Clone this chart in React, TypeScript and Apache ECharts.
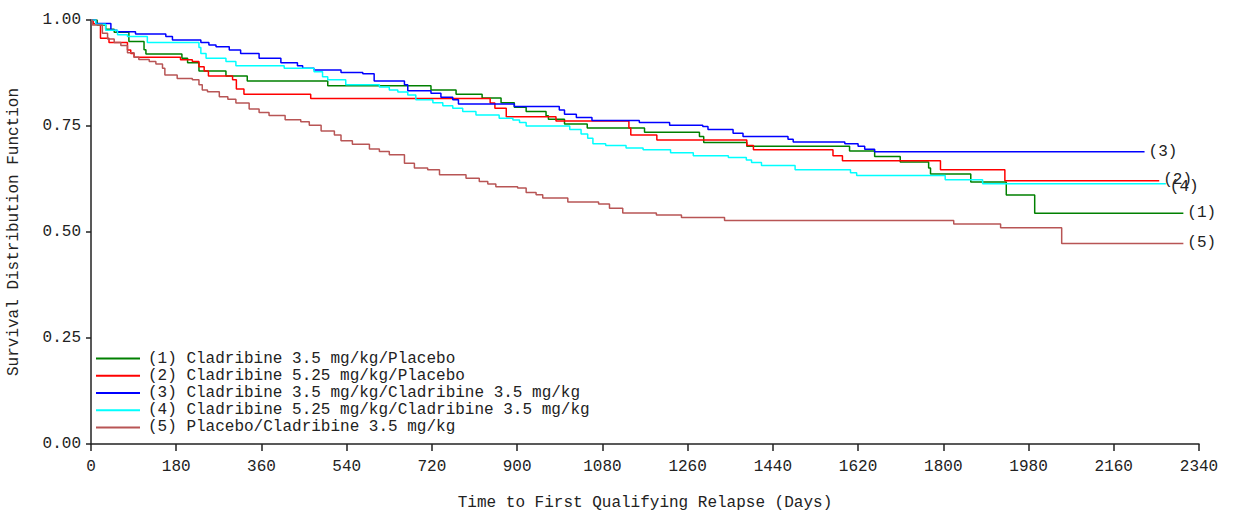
import React, { useEffect, useRef } from "react";
import * as echarts from "echarts";

const FONT = "'Liberation Mono', 'DejaVu Sans Mono', monospace";

const seriesNames = [
  "(1) Cladribine 3.5 mg/kg/Placebo",
  "(2) Cladribine 5.25 mg/kg/Placebo",
  "(3) Cladribine 3.5 mg/kg/Cladribine 3.5 mg/kg",
  "(4) Cladribine 5.25 mg/kg/Cladribine 3.5 mg/kg",
  "(5) Placebo/Cladribine 3.5 mg/kg",
];
const endTags = ["(1)", "(2)", "(3)", "(4)", "(5)"];
const colors = ["#008000", "#ff0000", "#0000ff", "#00ffff", "#b85555"];

const xTicks = [0, 180, 360, 540, 720, 900, 1080, 1260, 1440, 1620, 1800, 1980, 2160, 2340];
const yTicks = [0, 0.25, 0.5, 0.75, 1.0];

const curve1 = [
  [0, 1], [13, 0.988], [31, 0.978], [49, 0.971], [80, 0.949], [112, 0.93], [116, 0.92],
  [192, 0.91], [204, 0.899], [228, 0.88], [285, 0.868], [330, 0.856], [500, 0.845],
  [718, 0.835], [771, 0.825], [826, 0.816], [866, 0.805], [894, 0.794], [919, 0.784],
  [961, 0.774], [966, 0.766], [1000, 0.755], [1048, 0.745], [1169, 0.735], [1285, 0.725],
  [1294, 0.711], [1385, 0.702], [1602, 0.691], [1655, 0.678], [1709, 0.665], [1769, 0.651],
  [1773, 0.637], [1858, 0.618], [1933, 0.587], [1993, 0.544], [2307, 0.544],
];
const curve2 = [
  [0, 1], [5, 0.991], [20, 0.957], [38, 0.947], [77, 0.929], [84, 0.921], [91, 0.912],
  [189, 0.906], [214, 0.902], [228, 0.89], [239, 0.88], [248, 0.868], [299, 0.859],
  [307, 0.837], [323, 0.825], [464, 0.815], [843, 0.804], [853, 0.792], [877, 0.772],
  [982, 0.762], [1136, 0.745], [1140, 0.729], [1195, 0.717], [1385, 0.704], [1399, 0.694],
  [1567, 0.68], [1587, 0.668], [1794, 0.647], [1930, 0.621], [2256, 0.621],
];
const curve3 = [
  [0, 1], [10, 0.992], [42, 0.976], [55, 0.972], [94, 0.967], [158, 0.961], [172, 0.953],
  [232, 0.947], [249, 0.941], [264, 0.937], [292, 0.929], [316, 0.921], [355, 0.91],
  [401, 0.899], [436, 0.892], [447, 0.886], [471, 0.882], [528, 0.876], [574, 0.873],
  [598, 0.856], [662, 0.847], [669, 0.833], [718, 0.827], [739, 0.818], [764, 0.812],
  [776, 0.802], [894, 0.796], [989, 0.788], [1000, 0.778], [1025, 0.77], [1058, 0.763],
  [1158, 0.758], [1222, 0.752], [1292, 0.749], [1303, 0.742], [1356, 0.733], [1377, 0.725],
  [1472, 0.719], [1483, 0.712], [1592, 0.708], [1620, 0.702], [1634, 0.695], [1655, 0.689],
  [2225, 0.689],
];
const curve4 = [
  [0, 1], [10, 0.99], [31, 0.976], [56, 0.965], [77, 0.961], [119, 0.947], [228, 0.935],
  [232, 0.921], [243, 0.91], [285, 0.902], [306, 0.892], [408, 0.886], [471, 0.878],
  [489, 0.866], [500, 0.859], [538, 0.847], [609, 0.842], [630, 0.835], [648, 0.83],
  [669, 0.823], [686, 0.812], [722, 0.805], [743, 0.798], [764, 0.792], [785, 0.784],
  [813, 0.776], [862, 0.768], [891, 0.764], [905, 0.758], [919, 0.75], [1011, 0.742],
  [1035, 0.731], [1049, 0.721], [1060, 0.708], [1087, 0.704], [1130, 0.698], [1166, 0.694],
  [1224, 0.687], [1272, 0.68], [1346, 0.676], [1384, 0.67], [1395, 0.664], [1416, 0.657],
  [1487, 0.647], [1604, 0.64], [1617, 0.633], [1804, 0.623], [1883, 0.614], [2270, 0.614],
];
const curve5 = [
  [0, 1], [3, 0.988], [24, 0.969], [35, 0.955], [49, 0.947], [63, 0.94], [77, 0.923],
  [91, 0.912], [101, 0.907], [123, 0.902], [137, 0.896], [151, 0.886], [156, 0.87],
  [182, 0.862], [214, 0.859], [228, 0.847], [235, 0.835], [246, 0.831], [271, 0.819],
  [289, 0.813], [306, 0.804], [334, 0.79], [355, 0.782], [376, 0.775], [410, 0.765],
  [443, 0.76], [461, 0.752], [486, 0.738], [514, 0.729], [528, 0.715], [552, 0.707],
  [588, 0.696], [609, 0.69], [630, 0.682], [662, 0.662], [683, 0.651], [711, 0.647],
  [736, 0.635], [792, 0.627], [820, 0.619], [838, 0.613], [855, 0.607], [901, 0.604],
  [919, 0.593], [940, 0.588], [954, 0.58], [1007, 0.571], [1072, 0.566], [1095, 0.556],
  [1123, 0.545], [1194, 0.54], [1247, 0.534], [1338, 0.527], [1822, 0.519], [1921, 0.51],
  [2050, 0.473], [2307, 0.473],
];
const curves = [curve1, curve2, curve3, curve4, curve5];
const endLabelOffsets = [[0, 0], [0, -1], [0, 0], [0, 3], [0, 0]];

export default function App() {
  const ref = useRef<HTMLDivElement>(null);
  useEffect(() => {
    if (!ref.current) return;
    const chart = echarts.init(ref.current, undefined, { renderer: "svg", width: 1236, height: 512 });
    const axisColor = "#222";
    chart.setOption({
      animation: false,
      backgroundColor: "#ffffff",
      textStyle: { fontFamily: FONT },
      grid: { left: 91, right: 37, top: 20, bottom: 68, containLabel: false, outerBoundsMode: "none" },
      legend: {
        orient: "vertical",
        left: 96,
        top: 350,
        padding: 0,
        icon: "rect",
        itemWidth: 44,
        itemHeight: 2,
        itemGap: 0,
        selectedMode: false,
        data: seriesNames,
        textStyle: {
          fontFamily: FONT,
          fontSize: 16,
          color: "#222",
          lineHeight: 17.2,
          padding: [0, 0, 0, 3],
        },
      },
      xAxis: {
        type: "value",
        min: xTicks[0],
        max: xTicks[xTicks.length - 1],
        interval: 180,
        name: "Time to First Qualifying Relapse (Days)",
        nameLocation: "middle",
        nameGap: 51,
        nameTextStyle: { fontFamily: FONT, fontSize: 16, color: "#222" },
        axisLine: { show: true, lineStyle: { color: axisColor, width: 1.5 } },
        axisTick: { show: true, length: 7, lineStyle: { color: axisColor, width: 1.5 } },
        axisLabel: {
          margin: 15,
          fontFamily: FONT,
          fontSize: 16,
          color: "#222",
          showMinLabel: true,
          showMaxLabel: true,
          formatter: (v: number) => String(v),
        },
        splitLine: { show: false },
      },
      yAxis: {
        type: "value",
        min: yTicks[0],
        max: yTicks[yTicks.length - 1],
        interval: 0.25,
        name: "Survival Distribution Function",
        nameLocation: "middle",
        nameGap: 69,
        nameTextStyle: { fontFamily: FONT, fontSize: 16, color: "#222" },
        axisLine: { show: true, lineStyle: { color: axisColor, width: 1.5 } },
        axisTick: { show: true, length: 5, lineStyle: { color: axisColor, width: 1.5 } },
        axisLabel: {
          margin: 10,
          fontFamily: FONT,
          fontSize: 16,
          color: "#222",
          formatter: (v: number) => v.toFixed(2),
        },
        splitLine: { show: false },
      },
      series: curves.map((c, i) => ({
        name: seriesNames[i],
        type: "line",
        step: "end",
        symbol: "none",
        data: c,
        color: colors[i],
        lineStyle: { color: colors[i], width: 1.5 },
        endLabel: {
          show: true,
          formatter: endTags[i],
          fontFamily: FONT,
          fontSize: 16,
          color: "#222",
          distance: 4,
          offset: endLabelOffsets[i],
        },
        z: 2 + i,
      })),
    });
    return () => chart.dispose();
  }, []);
  return (
    <div
      ref={ref}
      style={{ position: "fixed", left: 0, top: 0, width: 1236, height: 512, background: "#fff" }}
    />
  );
}
